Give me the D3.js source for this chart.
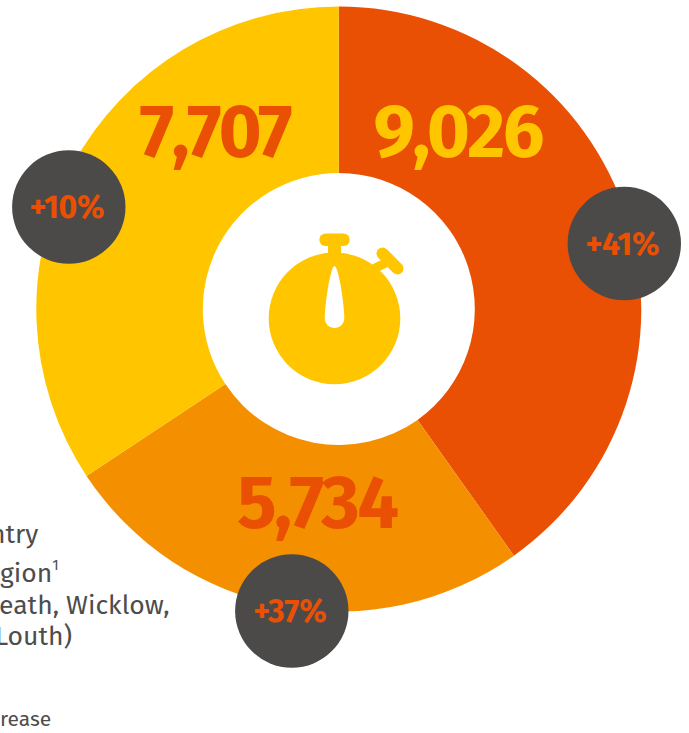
<!DOCTYPE html>
<html>
<head>
<meta charset="utf-8">
<script src="https://cdn.jsdelivr.net/npm/d3@7/dist/d3.min.js"></script>
<style>
  html, body { margin: 0; padding: 0; background: #fff; }
  svg { display: block; }
  text { font-family: "Fira Sans", "Noto Sans", Roboto, sans-serif; }
</style>
</head>
<body>
<svg id="chart" width="689" height="733"></svg>
<script>
// Journey counts per region, clockwise from twelve o'clock
const regions = ["Rest of country", "Greater Dublin region", "Other"];
const counts = [9026, 5734, 7707];
const changes = ["+41%", "+37%", "+10%"];

const sliceColors = ["#ea5004", "#f49000", "#ffc600"];
const countColors = ["#ffc600", "#ea5004", "#ea5004"];
const RED = "#ea5004", YELLOW = "#ffc600", GREY = "#4b4a48", INK = "#4d4d4d";

const svg = d3.select("#chart");
const cx = 338.8, cy = 309, outerR = 302.5, innerR = 136;

const pie = d3.pie().sort(null).value(d => d)(counts);
const arc = d3.arc().innerRadius(innerR).outerRadius(outerR);

const ring = svg.append("g").attr("transform", `translate(${cx},${cy})`);
ring.selectAll("path").data(pie).join("path")
  .attr("d", arc)
  .attr("fill", (d, i) => sliceColors[i]);

// Count labels sit inside the ring
const countAnchors = [[119, -152], [-22, 219], [-124, -152]];
ring.selectAll("text.count").data(counts).join("text")
  .attr("class", "count")
  .attr("x", (d, i) => countAnchors[i][0])
  .attr("y", (d, i) => countAnchors[i][1])
  .attr("text-anchor", "middle")
  .attr("font-size", 74)
  .attr("font-weight", 700)
  .attr("letter-spacing", -2.4)
  .attr("fill", (d, i) => countColors[i])
  .text(d => d3.format(",")(d));

// Change badges straddle the outer rim
const badgeAnchors = [[285.5, -65.5], [-47, 302], [-270, -102]];
const badges = ring.selectAll("g.badge").data(changes).join("g")
  .attr("class", "badge")
  .attr("transform", (d, i) => `translate(${badgeAnchors[i]})`);
badges.append("circle").attr("r", 56.7).attr("fill", GREY);
badges.append("text")
  .attr("text-anchor", "middle")
  .attr("x", -2)
  .attr("y", 11)
  .attr("font-size", 32)
  .attr("font-weight", 700)
  .attr("letter-spacing", -0.3)
  .attr("fill", RED)
  .text(d => d);

// Stopwatch in the centre of the ring
const watch = svg.append("g").attr("transform", "translate(334.5,318.4)");
watch.append("circle").attr("r", 65.8).attr("fill", YELLOW);
watch.append("rect").attr("x", -6.5).attr("y", -75).attr("width", 13).attr("height", 15).attr("fill", YELLOW);
watch.append("rect").attr("x", -15.2).attr("y", -85).attr("width", 30.4).attr("height", 12.6).attr("rx", 6.3).attr("fill", YELLOW);
watch.append("line").attr("x1", 40).attr("y1", -50).attr("x2", 55.5).attr("y2", -57.5)
  .attr("stroke", YELLOW).attr("stroke-width", 9);
watch.append("line").attr("x1", 48).attr("y1", -65).attr("x2", 63).attr("y2", -50)
  .attr("stroke", YELLOW).attr("stroke-width", 12).attr("stroke-linecap", "round");
watch.append("path")
  .attr("d", "M0,-52.4 C4,-52.4 9.6,-15 9.8,0 A9.8,9.8 0 0 1 -9.8,0 C-9.6,-15 -4,-52.4 0,-52.4 Z")
  .attr("fill", "#fff");

// Legend text running off the left edge
const legendLines = [
  { text: "ntry", y: 543, size: 26.5, x: -10 },
  { text: "gion", y: 582, size: 26.5, x: 0, sup: "1" },
  { text: "eath, Wicklow,", y: 614, size: 26.5, x: -1 },
  { text: "Louth)", y: 645, size: 26.5, x: -5 },
  { text: "rease", y: 726, size: 21, x: 0 }
];
const legend = svg.append("g");
legend.selectAll("text").data(legendLines).join("text")
  .attr("x", d => d.x)
  .attr("y", d => d.y)
  .attr("font-size", d => d.size)
  .attr("fill", INK)
  .each(function (d) {
    const t = d3.select(this);
    t.append("tspan").text(d.text);
    if (d.sup) t.append("tspan").attr("font-size", 15).attr("dy", -12).text(d.sup);
  });
</script>
</body>
</html>
